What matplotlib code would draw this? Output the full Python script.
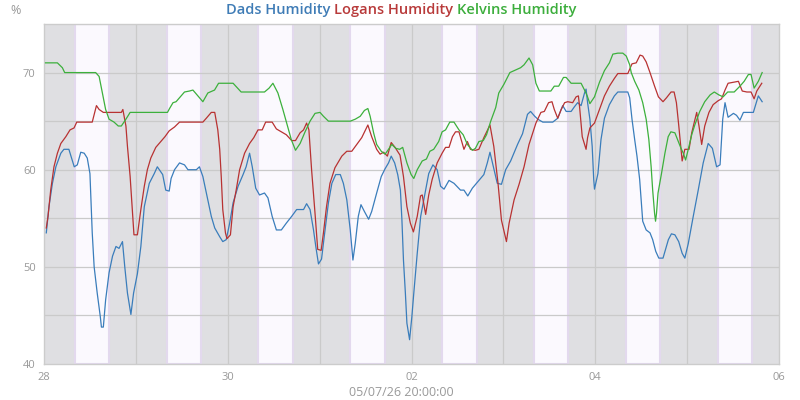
import matplotlib
matplotlib.use("Agg")
import matplotlib.pyplot as plt
import numpy as np

plt.rcParams['font.family'] = ['Open Sans', 'DejaVu Sans']

# ---- data: hours since 28 Apr 00:00, humidity % ----
dads_h = [0.6,1.3,2.2,3.1,4.4,5.2,6.5,7.9,8.7,9.6,10.5,11.3,12.0,12.6,13.1,13.9,14.7,15.0,15.5,16.1,17.0,17.9,18.8,19.6,20.5,21.1,21.8,22.7,23.4,24.4,25.3,26.2,27.5,28.8,29.6,31.0,31.8,32.7,33.2,34.1,35.4,36.7,37.6,39.8,40.6,41.5,42.4,43.7,44.6,45.9,46.7,47.6,48.5,49.4,50.7,52.0,52.8,53.7,54.4,55.3,56.3,57.6,58.5,59.6,60.7,62.0,63.3,64.7,66.0,67.8,68.6,69.5,70.4,71.0,71.7,72.5,73.2,74.3,75.2,76.2,77.4,78.2,79.1,80.0,80.7,81.3,82.1,82.8,83.7,84.8,85.6,86.9,88.1,89.1,90.0,90.7,91.6,92.4,93.1,93.5,93.9,94.4,94.8,95.5,96.1,96.6,97.5,98.4,99.7,100.5,101.6,102.7,103.6,104.5,105.8,107.1,108.8,109.7,110.7,111.9,113.6,114.9,115.8,116.5,117.4,118.4,119.5,120.6,121.9,123.7,125.0,126.3,127.1,128.2,129.0,130.3,132.9,134.2,135.5,136.4,137.7,138.6,139.4,140.3,141.2,141.6,142.0,142.6,143.2,143.6,143.8,144.7,145.5,146.4,147.7,149.0,149.9,152.5,153.0,153.6,154.3,154.9,155.6,156.4,157.3,158.3,159.0,159.8,160.6,161.7,163.1,163.9,164.8,165.8,166.7,167.4,168.3,169.6,170.9,172.2,173.5,174.6,175.7,176.6,177.3,177.9,178.7,180.1,180.9,181.8,182.7,185.3,185.9,186.6,187.6]
dads_v = [53.5,56.2,58.6,60.3,61.7,62.1,62.1,60.3,60.5,61.8,61.7,61.2,59.6,53.5,50.0,47.3,44.9,43.8,43.8,46.6,49.4,51.1,52.1,51.9,52.6,50.0,47.3,45.1,47.3,49.3,52.1,56.2,58.6,59.6,60.3,59.5,57.9,57.8,59.1,60.0,60.7,60.5,60.0,60.0,60.3,59.3,57.6,55.2,54.0,53.1,52.6,52.8,54.5,56.6,58.3,59.5,60.3,61.7,60.3,58.1,57.4,57.6,57.1,55.2,53.8,53.8,54.5,55.2,55.9,55.9,56.5,55.9,53.8,52.1,50.3,50.8,53.1,56.6,58.6,59.5,59.5,58.6,56.9,53.8,50.7,52.4,55.2,56.4,55.7,54.9,55.7,57.6,59.3,60.1,60.7,61.4,60.7,59.5,57.9,54.8,50.7,47.3,44.2,42.5,44.9,47.3,51.4,55.2,57.9,59.6,60.5,60.0,58.3,58.0,58.9,58.6,57.9,57.9,57.3,58.1,58.9,59.5,60.7,61.8,60.3,58.6,58.5,60.0,60.9,62.6,63.7,65.7,66.0,65.5,65.2,64.9,64.9,65.3,66.6,66.0,66.0,66.5,66.9,66.6,67.9,68.3,66.9,65.2,62.4,59.0,58.0,59.6,63.1,65.3,66.7,67.6,68.0,68.0,67.4,65.2,63.1,61.4,59.0,54.7,53.8,53.5,52.8,51.6,50.9,50.9,52.8,53.4,53.3,52.6,51.4,50.9,52.4,55.2,57.9,60.7,62.7,62.2,60.3,60.5,65.2,66.9,65.4,65.8,65.6,65.1,65.9,65.9,66.7,67.6,67.0]

logans_h = [0.6,1.05,1.75,2.6,3.5,4.4,5.7,6.8,7.85,8.55,12.6,13.3,13.7,14.4,15.5,20.2,20.6,21.4,21.8,22.5,22.9,23.5,24.4,25.3,26.2,27.0,27.9,29.2,30.5,31.6,32.7,34.1,35.4,41.5,42.4,43.7,44.6,45.4,45.9,46.3,46.7,47.4,47.8,48.7,49.4,50.2,51.1,52.4,53.7,54.8,55.9,57.0,57.9,59.6,60.7,62.0,63.3,64.7,65.7,66.9,67.8,68.6,69.2,69.9,70.8,71.5,72.4,73.0,73.8,74.7,76.0,77.8,79.1,80.4,81.7,83.0,84.6,85.6,86.9,87.8,88.7,89.7,90.7,91.7,93.0,93.9,94.8,95.7,96.5,97.5,98.35,98.8,99.7,100.5,101.4,102.7,104.0,104.9,105.8,106.7,107.5,108.4,109.7,110.6,111.4,112.7,113.6,114.9,116.5,117.5,118.6,119.5,120.8,121.5,122.8,124.1,125.4,126.7,128.5,129.8,130.7,131.8,132.7,133.3,134.2,135.1,136.0,136.8,138.1,139.0,139.6,139.9,140.6,141.2,141.6,142.0,142.6,143.8,145.1,146.4,147.7,149.0,149.9,152.5,153.6,154.7,155.7,156.4,157.3,158.3,159.5,160.5,161.7,162.6,163.8,164.6,165.2,165.8,166.4,166.7,167.4,168.5,169.2,170.5,171.1,171.8,172.6,173.7,174.8,176.1,177.0,177.9,178.7,180.1,181.4,182.4,183.6,184.7,185.5,186.2,187.5]
logans_v = [54.0,55.2,57.9,60.3,61.7,62.7,63.4,64.1,64.3,64.9,64.9,66.0,66.6,66.2,65.9,65.9,66.2,64.5,62.4,59.3,56.9,53.3,53.3,55.9,58.3,60.0,61.2,62.3,62.9,63.4,64.0,64.4,64.9,64.9,65.3,65.9,65.9,64.1,62.1,59.3,55.9,53.5,52.9,53.3,56.2,57.9,60.0,61.7,62.7,63.3,64.1,64.1,64.9,64.9,64.2,63.9,63.6,63.0,63.0,63.8,64.1,64.8,64.1,60.0,55.5,51.8,51.7,53.5,56.2,58.6,60.2,61.4,61.9,61.9,62.6,63.3,64.6,63.4,62.1,61.6,61.8,61.4,62.8,62.3,61.5,59.3,56.2,54.5,53.6,55.2,57.3,57.4,55.4,57.4,59.0,60.7,61.7,62.3,62.3,63.4,63.9,63.9,62.1,62.9,62.1,62.0,62.1,63.3,64.6,62.4,58.6,54.8,52.6,54.5,56.9,58.5,60.3,62.6,64.8,65.9,66.0,66.9,67.0,66.2,65.3,66.2,66.9,67.0,66.9,67.5,67.6,66.5,63.4,62.6,62.1,63.3,64.3,64.8,66.2,67.6,68.6,69.4,69.9,69.9,70.9,71.0,71.8,71.7,71.1,70.0,68.6,67.5,67.0,67.4,68.0,68.0,66.9,64.6,62.1,60.9,62.1,62.1,63.8,65.9,64.5,62.6,64.5,65.9,66.7,67.1,67.3,68.2,68.9,69.0,69.1,68.1,68.0,68.0,67.3,68.1,68.9]

kelvins_h = [0.4,3.5,4.8,5.4,13.5,14.4,15.25,16.1,17.0,18.3,19.4,20.2,21.4,22.5,32.25,32.8,33.7,34.5,35.8,36.7,38.0,38.9,40.2,41.5,42.8,44.55,45.6,49.4,51.5,57.6,58.8,59.8,61.1,62.4,63.75,64.6,65.7,66.9,68.2,69.5,70.8,72.1,73.0,74.3,80.0,81.3,82.6,83.7,84.6,85.2,86.1,86.9,88.1,89.1,90.0,90.85,91.9,92.9,93.7,94.8,95.9,96.6,97.5,98.8,99.9,100.8,101.8,103.1,104.0,104.9,106.0,107.1,108.4,109.5,110.6,111.9,112.7,113.6,114.75,115.6,116.7,118.0,118.8,120.15,121.7,122.8,124.5,125.4,126.7,127.65,128.5,129.4,132.4,133.3,134.45,135.7,136.4,137.7,140.3,141.2,141.9,142.6,143.8,145.1,146.4,147.7,148.6,149.9,151.2,152.1,153.0,153.4,154.3,155.4,156.4,157.3,158.0,158.6,159.0,159.5,159.75,160.0,160.4,161.3,162.2,163.05,163.75,164.8,165.5,166.4,167.0,167.6,168.3,169.2,170.0,171.3,172.6,174.0,175.1,176.3,177.4,178.6,180.3,181.8,182.9,184.0,184.7,185.5,186.6,187.6]
kelvins_v = [71.0,71.0,70.5,70.0,70.0,69.6,67.9,66.2,65.2,64.9,64.5,64.5,65.2,65.9,65.9,66.3,66.9,67.0,67.6,68.0,68.1,68.2,67.6,67.0,67.9,68.2,68.9,68.9,68.0,68.0,68.4,68.9,67.9,66.2,64.3,63.1,62.0,62.7,63.9,65.0,65.8,65.9,65.5,65.0,65.0,65.2,65.5,66.1,66.3,65.5,63.8,62.6,61.9,61.6,62.1,62.6,62.2,62.1,62.3,60.7,59.5,59.1,60.0,60.9,61.1,61.9,62.1,62.9,63.9,64.1,64.9,64.9,64.1,63.6,62.6,62.0,62.2,62.9,63.0,63.6,65.0,66.4,67.9,68.8,70.0,70.2,70.5,70.8,71.5,70.8,68.9,68.1,68.1,68.6,68.6,69.5,69.5,68.9,68.9,68.2,67.6,66.8,67.5,69.0,70.2,71.0,71.9,72.0,72.0,71.7,70.8,70.0,69.1,68.2,66.9,65.2,63.1,60.3,57.9,55.5,54.7,55.5,57.6,59.6,61.7,63.4,63.9,63.8,63.1,62.2,61.7,61.0,62.1,63.6,64.6,66.0,67.0,67.7,68.0,67.7,67.5,68.0,68.0,68.6,69.1,69.8,69.8,68.4,69.1,70.0]

x_tick_hours = [0, 48, 96, 144, 192]
x_tick_labels = ['28', '30', '02', '04', '06']
y_ticks = [40, 50, 60, 70]
series_names = ['Dads Humidity', 'Logans Humidity', 'Kelvins Humidity']
colors = ['#3a7dbb', '#b83232', '#3cb03c']
title_colors = ['#3f7cb6', '#b83a3a', '#3cae3c']

fig = plt.figure(figsize=(8, 4), dpi=100)
ax = fig.add_axes([44/800, 36/400, 735/800, 340/400])
ax.set_facecolor('#dfdfe2')

# day bands 08:00-17:00
for d in range(8):
    ax.axvspan(d*24 + 8, d*24 + 17, facecolor='#fbf9fe', edgecolor='#e3d9ee', linewidth=1.5, zorder=0)

for yy in np.arange(45, 75, 5):
    ax.axhline(yy, color='#cacaca', lw=0.9, zorder=1)
for xx in range(24, 192, 24):
    ax.axvline(xx, color='#cacaca', lw=0.9, zorder=1)

ax.plot(dads_h, dads_v, color=colors[0], lw=0.9, zorder=3)
ax.plot(logans_h, logans_v, color=colors[1], lw=0.9, zorder=3)
ax.plot(kelvins_h, kelvins_v, color=colors[2], lw=0.9, zorder=3)

ax.set_xlim(0, 192)
ax.set_ylim(40, 75)
ax.set_xticks(x_tick_hours)
ax.set_xticklabels(x_tick_labels)
ax.set_yticks(y_ticks)
ax.tick_params(length=0, colors='#999999', labelsize=8, pad=6)
for s in ax.spines.values():
    s.set_color('#cccccc')
    s.set_linewidth(1)

fig.text(401/800, 1 - 392/400, '05/07/26 20:00:00', ha='center', va='center', color='#999999', fontsize=9)
fig.text(10/800, 1 - 10/400, '%', ha='left', va='center', color='#999999', fontsize=9)

# multicoloured title
texts = []
for name, c in zip(series_names, title_colors):
    texts.append(fig.text(0, 1 - 10/400, name, color=c, fontsize=10.5, fontweight='semibold', va='center', ha='left'))
fig.canvas.draw()
r = fig.canvas.get_renderer()
space = 3.5
widths = [t.get_window_extent(r).width for t in texts]
total = sum(widths) + space * (len(widths) - 1)
x0 = 401 - total / 2
for t, w in zip(texts, widths):
    t.set_x(x0 / 800)
    x0 += w + space

fig.savefig('out.png', dpi=100)
